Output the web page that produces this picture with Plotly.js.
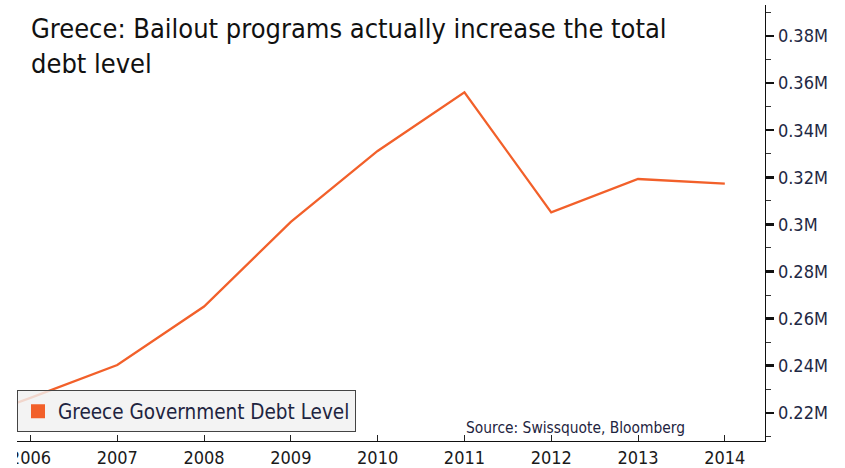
<!DOCTYPE html>
<html><head><meta charset="utf-8">
<script src="https://cdn.plot.ly/plotly-3.0.1.min.js"></script>
<style>html,body{margin:0;padding:0;background:#fff}#chart{width:845px;height:468px}</style>
</head><body><div id="chart"></div>
<script>
const years = [2005, 2006, 2007, 2008, 2009, 2010, 2011, 2012, 2013, 2014];
const debt = [0.213, 0.2263, 0.2403, 0.2651, 0.3011, 0.3312, 0.3561, 0.3051, 0.3193, 0.3173];
const xTickVals = [2006, 2007, 2008, 2009, 2010, 2011, 2012, 2013, 2014];
const yTickVals = [0.22, 0.24, 0.26, 0.28, 0.30, 0.32, 0.34, 0.36, 0.38];
const yTickText = ['0.22M', '0.24M', '0.26M', '0.28M', '0.3M', '0.32M', '0.34M', '0.36M', '0.38M'];
const seriesName = 'Greece Government Debt Level';
const titleText = 'Greece: Bailout programs actually increase the total<br>debt level';
const sourceText = 'Source: Swissquote, Bloomberg';

const FONT = '"DejaVu Sans Condensed", "DejaVu Sans", sans-serif';
const ORANGE = '#f2602a';

const traces = [
  {x: years, y: debt, type: 'scatter', mode: 'lines', name: seriesName,
   line: {color: ORANGE, width: 2.3}, showlegend: false, hoverinfo: 'x+y'},
  {x: [null], y: [null], type: 'scatter', mode: 'markers', name: seriesName,
   marker: {symbol: 'square', size: 14, color: ORANGE}, showlegend: true}
];

const layout = {
  width: 845, height: 468,
  margin: {l: 17, r: 80, t: 5, b: 27, pad: 0},
  paper_bgcolor: '#ffffff', plot_bgcolor: '#ffffff',
  font: {family: FONT, color: '#1a1a1a'},
  title: {text: titleText, xref: 'container', yref: 'container', x: 31/845, xanchor: 'left',
          y: 1 - 38/468, yanchor: 'top', font: {family: FONT, size: 27, color: '#111111'}},
  xaxis: {range: [2005.845, 2014.463], tickvals: xTickVals, ticks: 'inside', ticklen: 6,
          tickcolor: '#222', showline: true, linecolor: '#111', linewidth: 1.3,
          showgrid: false, zeroline: false, tickfont: {size: 18, color: '#1a1a1a'}},
  yaxis: {side: 'right', range: [0.208, 0.3932], tickvals: yTickVals, ticktext: yTickText,
          ticks: 'outside', ticklen: 8, tickwidth: 2.5, tickcolor: '#111',
          minor: {dtick: 0.01, tick0: 0.21, ticks: 'outside', ticklen: 5, tickwidth: 1, tickcolor: '#333'},
          showline: true, linecolor: '#111', linewidth: 1.3, showgrid: false, zeroline: false,
          tickfont: {size: 18, color: '#1e2844'}},
  legend: {x: 0, xanchor: 'left', y: (440.7 - 432) / 436, yanchor: 'bottom',
           bgcolor: 'rgba(240,240,240,0.82)', bordercolor: '#444', borderwidth: 1,
           font: {size: 20.5, color: '#1e2440'}},
  shapes: [{type: 'rect', xref: 'paper', yref: 'paper', x0: -0.05, x1: 0, y0: -0.08, y1: -0.003,
            fillcolor: '#ffffff', line: {width: 0}, layer: 'above'}],
  annotations: [{text: sourceText, xref: 'paper', yref: 'paper', x: (464 - 17) / 748, xanchor: 'left',
                 y: (440.7 - 428) / 436, yanchor: 'middle', showarrow: false,
                 font: {size: 15.4, color: '#1e2440'}}]
};

Plotly.newPlot('chart', traces, layout, {displayModeBar: false, staticPlot: true});
</script></body></html>
